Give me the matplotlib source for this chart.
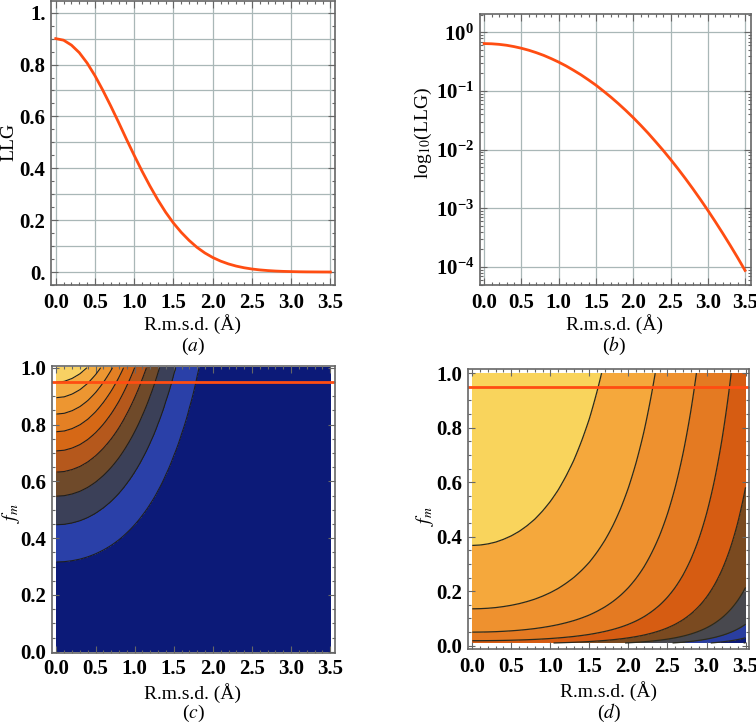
import matplotlib
matplotlib.use("Agg")
import matplotlib.pyplot as plt
import numpy as np
from matplotlib.ticker import MultipleLocator, FixedLocator, NullFormatter

plt.rcParams["font.family"] = ["Liberation Serif", "DejaVu Serif"]
plt.rcParams["mathtext.fontset"] = "stix"

# values
rmsd = [0.0, 0.1, 0.2, 0.3, 0.4, 0.5, 0.6, 0.7, 0.8, 0.9,
        1.0, 1.1, 1.2, 1.3, 1.4, 1.5, 1.6, 1.7, 1.8, 1.9,
        2.0, 2.1, 2.2, 2.3, 2.4, 2.5, 2.6, 2.7, 2.8, 2.9,
        3.0, 3.1, 3.2, 3.3, 3.4, 3.5]

# panel (a): LLG, linear axis
llg_lin = [0.900, 0.894, 0.875, 0.846, 0.806, 0.757, 0.701, 0.641, 0.578, 0.513,
           0.450, 0.389, 0.332, 0.279, 0.231, 0.189, 0.153, 0.122, 0.0953, 0.0737,
           0.0563, 0.0424, 0.0315, 0.0230, 0.0166, 0.0118, 0.0083, 0.0058, 0.0039, 0.0026,
           0.0018, 0.0011, 0.0007, 0.0005, 0.0003, 0.0002]

# panel (b): LLG, log axis
llg_log = [0.646, 0.641, 0.627, 0.605, 0.574, 0.538, 0.497, 0.452, 0.406, 0.358,
           0.312, 0.268, 0.226, 0.189, 0.155, 0.126, 0.100, 0.0788, 0.0611, 0.0467,
           0.0352, 0.0261, 0.0191, 0.0137, 0.00977, 0.00684, 0.00472, 0.00321, 0.00215, 0.00142,
           0.000925, 0.000593, 0.000375, 0.000234, 0.000144, 0.0000869]

fm_target = 0.95
levels_c = [0.0, 0.1, 0.2, 0.3, 0.4, 0.5, 0.6, 0.7, 0.8, 0.9, 1.0]
levels_d = [-20, -18, -16, -14, -12, -10, -8, -6, -4, -2, 0]

x_ticks = [0.0, 0.5, 1.0, 1.5, 2.0, 2.5, 3.0, 3.5]
x_labels = ["0.0", "0.5", "1.0", "1.5", "2.0", "2.5", "3.0", "3.5"]
ya_ticks = [0.0, 0.2, 0.4, 0.6, 0.8, 1.0]
ya_labels = ["0.", "0.2", "0.4", "0.6", "0.8", "1."]
yb_ticks = [1e-4, 1e-3, 1e-2, 1e-1, 1e0]
yb_labels = [r"$\mathdefault{10^{-4}}$", r"$\mathdefault{10^{-3}}$", r"$\mathdefault{10^{-2}}$",
             r"$\mathdefault{10^{-1}}$", r"$\mathdefault{10^{0}}$"]
yc_ticks = [0.0, 0.2, 0.4, 0.6, 0.8, 1.0]
yc_labels = ["0.0", "0.2", "0.4", "0.6", "0.8", "1.0"]

colors_c = ["#0c1a78", "#2a40a8", "#3b4058", "#6f4a2a", "#b5581c",
            "#d66816", "#e48024", "#ed9631", "#f3ad43", "#f8d163"]
colors_d = ["#0c1a78", "#0c1a78", "#2a3ea0", "#48484e", "#7a4a20",
            "#d65c12", "#e47a22", "#ee912f", "#f5a83c", "#f9d45c"]

CURVE = "#ff4d12"
FRAME = "#666666"
GRID = "#a9b7b7"
FS_TICK = 15
FS = 14

W, H = 756, 726
fig = plt.figure(figsize=(W / 100, H / 100), dpi=100)
ax_a = fig.add_axes([0.0675, 0.6074, 0.3757, 0.3912])
ax_b = fig.add_axes([0.6345, 0.6074, 0.3589, 0.3729])
ax_c = fig.add_axes([0.0684, 0.1006, 0.3746, 0.3953])
ax_d = fig.add_axes([0.6190, 0.1061, 0.3713, 0.3856])


def style(ax, xpad):
    for s in ax.spines.values():
        s.set_color(FRAME)
        s.set_linewidth(1.2)
    ax.tick_params(which="both", direction="in", top=True, right=True,
                   color=FRAME, width=0.8, labelsize=FS_TICK)
    ax.tick_params(axis="x", pad=xpad)
    ax.tick_params(axis="y", pad=4)
    ax.tick_params(which="major", length=5)
    ax.tick_params(which="minor", length=2.5)
    ax.set_xticks(x_ticks, x_labels, fontweight="bold")
    ax.xaxis.set_minor_locator(MultipleLocator(0.1))


def label(x, y, s, rot=0):
    fig.text(x / W, 1 - y / H, s, ha="center", va="center", rotation=rot, fontsize=FS)


# (a)
for g in np.arange(0, 1.01, 0.1):
    ax_a.axhline(g, color=GRID, lw=0.9, zorder=0)
for g in x_ticks:
    ax_a.axvline(g, color=GRID, lw=0.9, zorder=0)
ax_a.plot(rmsd, llg_lin, color=CURVE, lw=2)
ax_a.set_xlim(-0.06, 3.56)
ax_a.set_ylim(-0.05, 1.045)
style(ax_a, 6)
ax_a.set_yticks(ya_ticks, ya_labels, fontweight="bold")
ax_a.yaxis.set_minor_locator(MultipleLocator(0.05))

# (b)
ax_b.set_yscale("log")
for g in yb_ticks:
    ax_b.axhline(g, color=GRID, lw=0.9, zorder=0)
for g in x_ticks:
    ax_b.axvline(g, color=GRID, lw=0.9, zorder=0)
ax_b.plot(rmsd, llg_log, color=CURVE, lw=2)
ax_b.set_xlim(-0.06, 3.58)
ax_b.set_ylim(10 ** -4.31, 10 ** 0.31)
style(ax_b, 6)
ax_b.set_yticks(yb_ticks, yb_labels, fontweight="bold")
ax_b.yaxis.set_minor_locator(FixedLocator(
    [m * 10.0 ** e for e in range(-5, 1) for m in range(2, 10)]))
ax_b.yaxis.set_minor_formatter(NullFormatter())

# (c) linear LLG over rmsd and fm
fm_c = np.linspace(0.0, 1.0, 401)
decay_c = np.array(llg_lin) / llg_lin[0]
z_c = np.outer(fm_c ** 2, decay_c)
ax_c.contourf(rmsd, fm_c, z_c, levels=levels_c, colors=colors_c)
ax_c.contour(rmsd, fm_c, z_c, levels=levels_c[1:-1], colors="#1e1e1e",
             linewidths=0.8, linestyles="solid")
ax_c.axhline(fm_target, color=CURVE, lw=2)
ax_c.set_xlim(-0.06, 3.56)
ax_c.set_ylim(-0.004, 1.006)
style(ax_c, 4)
ax_c.set_yticks(yc_ticks, yc_labels, fontweight="bold")
ax_c.yaxis.set_minor_locator(MultipleLocator(0.05))

# (d) log LLG over rmsd and fm
fm_d = np.linspace(0.01, 1.0, 500)
decay_d = np.array(llg_log) / llg_log[0]
z_d = np.log(np.outer(fm_d ** 2, decay_d))
ax_d.contourf(rmsd, fm_d, z_d, levels=levels_d, colors=colors_d)
ax_d.contour(rmsd, fm_d, z_d, levels=levels_d[1:-1], colors="#2a2a1e",
             linewidths=0.9, linestyles="solid")
ax_d.axhline(fm_target, color=CURVE, lw=2)
ax_d.set_xlim(-0.055, 3.54)
ax_d.set_ylim(-0.012, 1.015)
style(ax_d, 6)
ax_d.set_yticks(yc_ticks, yc_labels, fontweight="bold")
ax_d.yaxis.set_minor_locator(MultipleLocator(0.05))

# axis titles and panel captions
label(9, 142, "LLG", 90)
label(423, 133, r"log$_{10}$(LLG)", 90)
label(11, 513, "$f_m$", 90)
label(425, 516, "$f_m$", 90)
label(193, 324, "R.m.s.d. (Å)")
label(614, 324, "R.m.s.d. (Å)")
label(193, 693, "R.m.s.d. (Å)")
label(609, 691, "R.m.s.d. (Å)")
label(193, 346, "($a$)")
label(614, 346, "($b$)")
label(193, 713, "($c$)")
label(609, 713, "($d$)")

fig.savefig("out.png", dpi=100)
